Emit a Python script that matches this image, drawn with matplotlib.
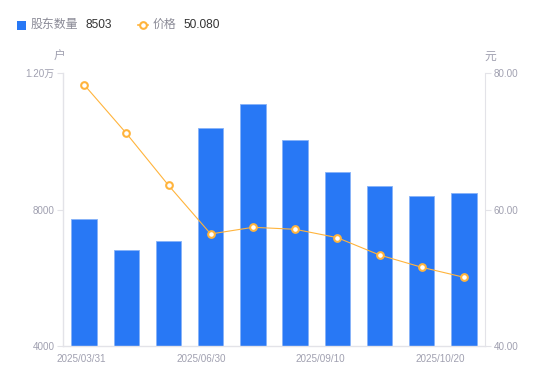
import numpy as np
import matplotlib
matplotlib.use('Agg')
import matplotlib.pyplot as plt
from matplotlib.lines import Line2D

plt.rcParams['font.family'] = ['Liberation Sans', 'Noto Sans CJK SC', 'DejaVu Sans']

# data
holders = [7730, 6810, 7080, 10385, 11100, 10035, 9095, 8700, 8390, 8503]
price = [78.33, 71.20, 63.57, 56.43, 57.41, 57.12, 55.89, 53.35, 51.55, 50.08]
date_labels = ['2025/03/31', '2025/06/30', '2025/09/10', '2025/10/20']
left_ticks = [4000, 8000, 12000]
left_ticklabels = ['4000', '8000', '1.20万']
right_ticks = [40, 60, 80]
right_ticklabels = ['40.00', '60.00', '80.00']

bar_color = '#2878f5'
line_color = '#ffb43c'
axis_color = '#e3e3e8'
label_color = '#a0a0b0'

W, H = 550, 381
fig = plt.figure(figsize=(W/100, H/100), dpi=100)
ax = fig.add_axes([63/W, 1-346/H, (485-63)/W, (346-73.3)/H])

x = np.arange(len(holders))
ax.bar(x, holders, width=0.6, color=bar_color, edgecolor='#86b2f8', linewidth=0.6, zorder=2)
ax.set_xlim(-0.5, len(holders)-0.5)
ax.set_ylim(4000, 12000)
ax.set_yticks(left_ticks)
ax.set_yticklabels(left_ticklabels)

# date labels spread like the original
ax.set_xticks(np.linspace(-0.06, 8.43, len(date_labels)))
ax.set_xticklabels(date_labels)
ax.tick_params(axis='x', length=0, pad=6, labelsize=7.1, colors=label_color)
ax.tick_params(axis='y', length=4, width=0.8, color=axis_color, pad=2, labelsize=7.1, labelcolor=label_color)

for s in ['top', 'right']:
    ax.spines[s].set_visible(False)
for s in ['left', 'bottom']:
    ax.spines[s].set_color(axis_color)
    ax.spines[s].set_linewidth(1)

ax2 = ax.twinx()
ax2.plot(x, price, color=line_color, linewidth=0.8, marker='o', markersize=4.8,
         markerfacecolor='white', markeredgecolor=line_color, markeredgewidth=1.5, zorder=3)
ax2.set_ylim(40, 80)
ax2.set_yticks(right_ticks)
ax2.set_yticklabels(right_ticklabels)
ax2.tick_params(axis='y', length=4, width=0.8, color=axis_color, pad=2, labelsize=7.1, labelcolor=label_color)
for s in ['top', 'left', 'bottom']:
    ax2.spines[s].set_visible(False)
ax2.spines['right'].set_color(axis_color)

# unit labels
fig.text(60/W, 1-57/H, '户', ha='center', va='center', fontsize=8.5, color=label_color)
fig.text(490/W, 1-57/H, '元', ha='center', va='center', fontsize=8.5, color=label_color)

# legend drawn by hand
ly = 1-25/H
fig.patches.append(plt.Rectangle((17/W, 1-30/H), 9/W, 9/H, transform=fig.transFigure,
                                 facecolor=bar_color, edgecolor='none'))
fig.text(31/W, ly, '股东数量', ha='left', va='center', fontsize=8.6, color='#8a8a96')
fig.text(85/W, ly, '8503', ha='left', va='center', fontsize=8.6, color='#333333')
fig.lines.append(Line2D([138/W, 148/W], [ly, ly], transform=fig.transFigure, color=line_color,
                        linewidth=1.2))
fig.lines.append(Line2D([143/W], [ly], transform=fig.transFigure, color=line_color, linestyle='none',
                        marker='o', markersize=4.8, markerfacecolor='white', markeredgewidth=1.5))
fig.text(153/W, ly, '价格', ha='left', va='center', fontsize=8.6, color='#8a8a96')
fig.text(183/W, ly, '50.080', ha='left', va='center', fontsize=8.6, color='#333333')

fig.savefig('out.png', dpi=100)
